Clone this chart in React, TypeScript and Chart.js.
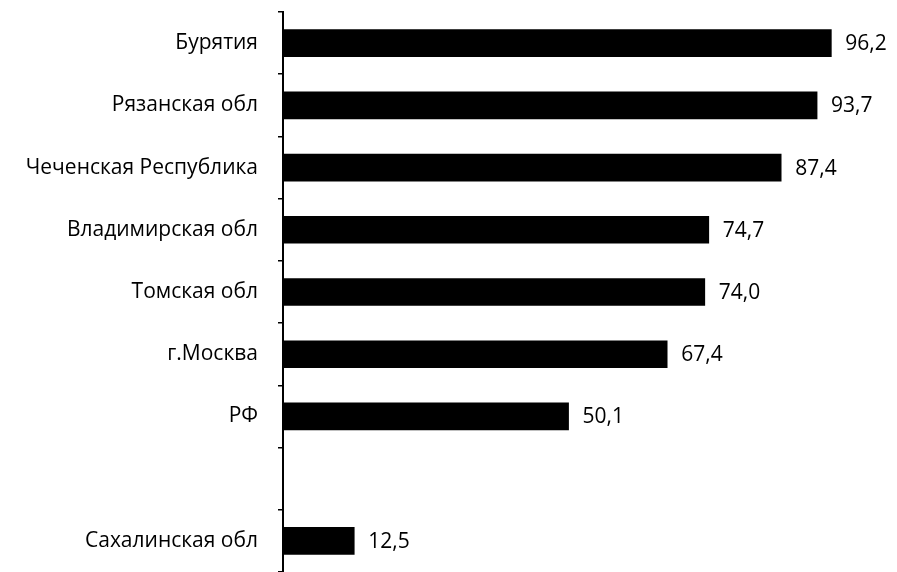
import React, { useEffect, useRef } from "react";
import { Chart, registerables } from "chart.js";

Chart.register(...registerables);

const categories = [
  "Бурятия",
  "Рязанская обл",
  "Чеченская Республика",
  "Владимирская обл",
  "Томская обл",
  "г.Москва",
  "РФ",
  "",
  "Сахалинская обл",
];
const values: (number | null)[] = [96.2, 93.7, 87.4, 74.7, 74.0, 67.4, 50.1, null, 12.5];
const xMin = 0;
const xMax = 100;

const FONT = "'Open Sans', 'Noto Sans', sans-serif";

const valueLabels = {
  id: "valueLabels",
  afterDatasetsDraw(chart: any) {
    const ctx = chart.ctx;
    const meta = chart.getDatasetMeta(0);
    ctx.save();
    ctx.fillStyle = "#000";
    ctx.font = `500 21px ${FONT}`;
    ctx.textBaseline = "middle";
    ctx.textAlign = "left";
    meta.data.forEach((bar: any, i: number) => {
      const v = values[i];
      if (v == null) return;
      ctx.fillText(v.toFixed(1).replace(".", ","), bar.x + 14, bar.y + 1);
    });
    ctx.restore();
  },
};

export default function App() {
  const ref = useRef<HTMLCanvasElement>(null);
  useEffect(() => {
    if (!ref.current) return;
    const chart = new Chart(ref.current, {
      type: "bar",
      data: {
        labels: categories,
        datasets: [
          {
            data: values,
            backgroundColor: "#000",
            borderWidth: 0,
            barThickness: 27,
          },
        ],
      },
      options: {
        indexAxis: "y",
        animation: false,
        responsive: false,
        maintainAspectRatio: false,
        layout: { padding: { top: 12, right: 44, bottom: 0, left: 0 } },
        plugins: { legend: { display: false }, tooltip: { enabled: false } },
        scales: {
          x: { display: false, min: xMin, max: xMax },
          y: {
            afterFit(scale: any) {
              scale.width = 283;
              scale.paddingTop = 0;
              scale.paddingBottom = 0;
            },
            border: { display: true, color: "#000", width: 2 },
            grid: {
              display: true,
              drawOnChartArea: false,
              drawTicks: true,
              tickLength: 5,
              color: "#000",
              lineWidth: 1.5,
              offset: true,
            },
            ticks: {
              color: "#000",
              padding: 20,
              font: { family: FONT, size: 21, weight: "500" },
              autoSkip: false,
            },
          },
        },
      },
      plugins: [valueLabels],
    });
    return () => chart.destroy();
  }, []);
  return (
    <div style={{ position: "absolute", left: 0, top: 0, width: 897, height: 572, background: "#fff" }}>
      <canvas ref={ref} width={897} height={572} />
    </div>
  );
}
